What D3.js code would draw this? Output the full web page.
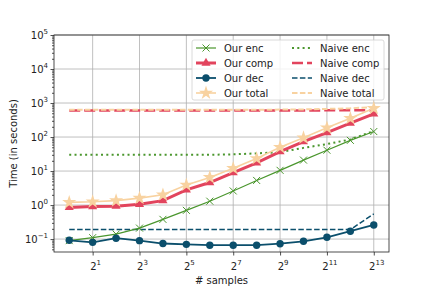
<!DOCTYPE html>
<html>
<head>
<meta charset="utf-8">
<script src="https://cdn.jsdelivr.net/npm/d3@7"></script>
<style>
  body { margin: 0; background: #fff; }
  text { font-family: "DejaVu Sans", sans-serif; fill: #222; }
</style>
</head>
<body>
<svg id="chart" width="432" height="288"></svg>
<script>
// samples are 2^0 .. 2^13
var exps = d3.range(0, 14);
var ourEnc   = [0.09, 0.11, 0.14, 0.21, 0.38, 0.7, 1.3, 2.6, 5.3, 10.5, 21, 41, 80, 145];
var ourComp  = [0.85, 0.9, 0.93, 1.05, 1.35, 2.8, 4.6, 9, 17.5, 37, 73, 134, 255, 480];
var ourDec   = [0.092, 0.08, 0.106, 0.09, 0.074, 0.07, 0.066, 0.066, 0.066, 0.073, 0.086, 0.113, 0.17, 0.26];
var ourTotal = [1.2, 1.25, 1.35, 1.6, 2.0, 3.9, 6.5, 12, 23.5, 50, 95, 188, 355, 700];
var naiveEnc   = [30, 30, 30, 30, 30, 30, 30, 31, 33, 36, 48, 62, 85, 150];
var naiveComp  = [600, 600, 600, 600, 600, 600, 600, 600, 600, 600, 600, 610, 610, 620];
var naiveDec   = [0.19, 0.19, 0.19, 0.19, 0.19, 0.19, 0.19, 0.19, 0.19, 0.19, 0.19, 0.19, 0.19, 0.55];
var naiveTotal = [630, 630, 630, 630, 630, 630, 630, 630, 635, 640, 650, 670, 700, 760];
var xTicks = [1, 3, 5, 7, 9, 11, 13];
var yTicks = [-1, 0, 1, 2, 3, 4, 5];

var svg = d3.select("#chart");
var mLeft = 54, mRight = 389, mTop = 35, mBottom = 252;

var x = d3.scaleLinear().domain([-0.65, 13.65]).range([mLeft, mRight]);
var y = d3.scaleLog().domain([Math.pow(10, -1.38), 1e5]).range([mBottom, mTop]);

// grid
svg.append("g").selectAll("line").data(xTicks).enter().append("line")
    .attr("x1", d => x(d)).attr("x2", d => x(d))
    .attr("y1", mTop).attr("y2", mBottom)
    .attr("stroke", "#b0b0b0").attr("stroke-width", 0.8);
svg.append("g").selectAll("line").data(yTicks).enter().append("line")
    .attr("x1", mLeft).attr("x2", mRight)
    .attr("y1", d => y(Math.pow(10, d))).attr("y2", d => y(Math.pow(10, d)))
    .attr("stroke", "#b0b0b0").attr("stroke-width", 0.8);

// axes
svg.append("g").attr("transform", "translate(0," + mBottom + ")")
    .call(d3.axisBottom(x).tickValues(xTicks).tickSize(3.5).tickFormat(""));
var minor = [];
for (var e = -2; e < 5; e++) for (var m = 2; m < 10; m++) {
    var v = m * Math.pow(10, e);
    if (v >= y.domain()[0] && v <= 1e5) minor.push(v);
}
svg.append("g").attr("transform", "translate(" + mLeft + ",0)")
    .call(d3.axisLeft(y).tickValues(minor).tickSize(2).tickFormat(""));
svg.append("g").attr("transform", "translate(" + mLeft + ",0)")
    .call(d3.axisLeft(y).tickValues(yTicks.map(d => Math.pow(10, d))).tickSize(3.5).tickFormat(""));
svg.selectAll(".domain").remove();
svg.selectAll(".tick line").attr("stroke", "#222").attr("stroke-width", 0.8);

// tick labels with superscripts
function powLabel(sel, base, exp) {
    sel.append("tspan").text(base).style("font-size", "10px");
    sel.append("tspan").text(exp).attr("dy", -5).style("font-size", "7px");
}
xTicks.forEach(function(d) {
    var t = svg.append("text").attr("x", x(d) + 3).attr("y", mBottom + 18).attr("text-anchor", "middle");
    powLabel(t, "2", d);
});
yTicks.forEach(function(d) {
    var t = svg.append("text").attr("x", mLeft - 6).attr("y", y(Math.pow(10, d)) + 4).attr("text-anchor", "end");
    powLabel(t, "10", d < 0 ? "\u2212" + (-d) : d);
});

svg.append("text").attr("x", (mLeft + mRight) / 2).attr("y", 284)
    .attr("text-anchor", "middle").style("font-size", "10px").text("# samples");
svg.append("text").attr("transform", "translate(17," + ((mTop + mBottom) / 2) + ") rotate(-90)")
    .attr("text-anchor", "middle").style("font-size", "10px").text("Time (in seconds)");

var green = "#4a962d", red = "#e2445d", blue = "#0b4f6c", peach = "#f8d2a0";

var series = [
    {name: "Naive enc", values: naiveEnc, color: green, width: 2, dash: "2,3.3"},
    {name: "Naive dec", values: naiveDec, color: blue, width: 1.5, dash: "5.5,2.4"},
    {name: "Naive comp", values: naiveComp, color: red, width: 2.5, dash: "11,4"},
    {name: "Naive total", values: naiveTotal, color: peach, width: 2, dash: "5.5,2.4"},
    {name: "Our enc", values: ourEnc, color: green, width: 1.2, marker: "x"},
    {name: "Our dec", values: ourDec, color: blue, width: 1.8, marker: "circle"},
    {name: "Our comp", values: ourComp, color: red, width: 3, marker: "triangle"},
    {name: "Our total", values: ourTotal, color: peach, width: 1.6, marker: "star"}
];

var line = d3.line().x((d, i) => x(exps[i])).y(d => y(d));
var plot = svg.append("g");

function drawMarker(g, kind, color, cx, cy) {
    if (kind === "x") {
        g.append("path").attr("d", "M-3.5,-3.5L3.5,3.5M-3.5,3.5L3.5,-3.5")
            .attr("transform", "translate(" + cx + "," + cy + ")")
            .attr("fill", "none").attr("stroke", color).attr("stroke-width", 1);
    } else if (kind === "circle") {
        g.append("circle").attr("cx", cx).attr("cy", cy).attr("r", 3.7).attr("fill", color);
    } else if (kind === "triangle") {
        g.append("path").attr("d", d3.symbol(d3.symbolTriangle, 36)())
            .attr("transform", "translate(" + cx + "," + cy + ")").attr("fill", color);
    } else if (kind === "star") {
        g.append("path").attr("d", d3.symbol(d3.symbolStar, 62)())
            .attr("transform", "translate(" + cx + "," + cy + ")").attr("fill", color);
    }
}

series.forEach(function(s) {
    plot.append("path").datum(s.values).attr("d", line)
        .attr("fill", "none").attr("stroke", s.color).attr("stroke-width", s.width)
        .attr("stroke-dasharray", s.dash || null);
    if (s.marker) {
        s.values.forEach(function(v, i) { drawMarker(plot, s.marker, s.color, x(exps[i]), y(v)); });
    }
});

svg.append("rect").attr("x", mLeft).attr("y", mTop)
    .attr("width", mRight - mLeft).attr("height", mBottom - mTop)
    .attr("fill", "none").attr("stroke", "#222").attr("stroke-width", 0.8);

// legend
var legendOrder = [["Our enc", "Naive enc"], ["Our comp", "Naive comp"], ["Our dec", "Naive dec"], ["Our total", "Naive total"]];
var lg = svg.append("g");
lg.append("rect").attr("x", 192).attr("y", 40).attr("width", 192).attr("height", 60).attr("rx", 2)
    .attr("fill", "#fff").attr("fill-opacity", 0.8).attr("stroke", "#d0d0d0").attr("stroke-width", 0.8);
legendOrder.forEach(function(row, r) {
    row.forEach(function(name, c) {
        var s = series.find(d => d.name === name);
        var x0 = c === 0 ? 196 : 292, ly = 48 + r * 15;
        lg.append("line").attr("x1", x0).attr("x2", x0 + 20).attr("y1", ly).attr("y2", ly)
            .attr("stroke", s.color).attr("stroke-width", s.width)
            .attr("stroke-dasharray", s.dash || null);
        if (s.marker) drawMarker(lg, s.marker, s.color, x0 + 10, ly);
        lg.append("text").attr("x", x0 + 28).attr("y", ly + 3.5).style("font-size", "10px").text(name);
    });
});
</script>
</body>
</html>
